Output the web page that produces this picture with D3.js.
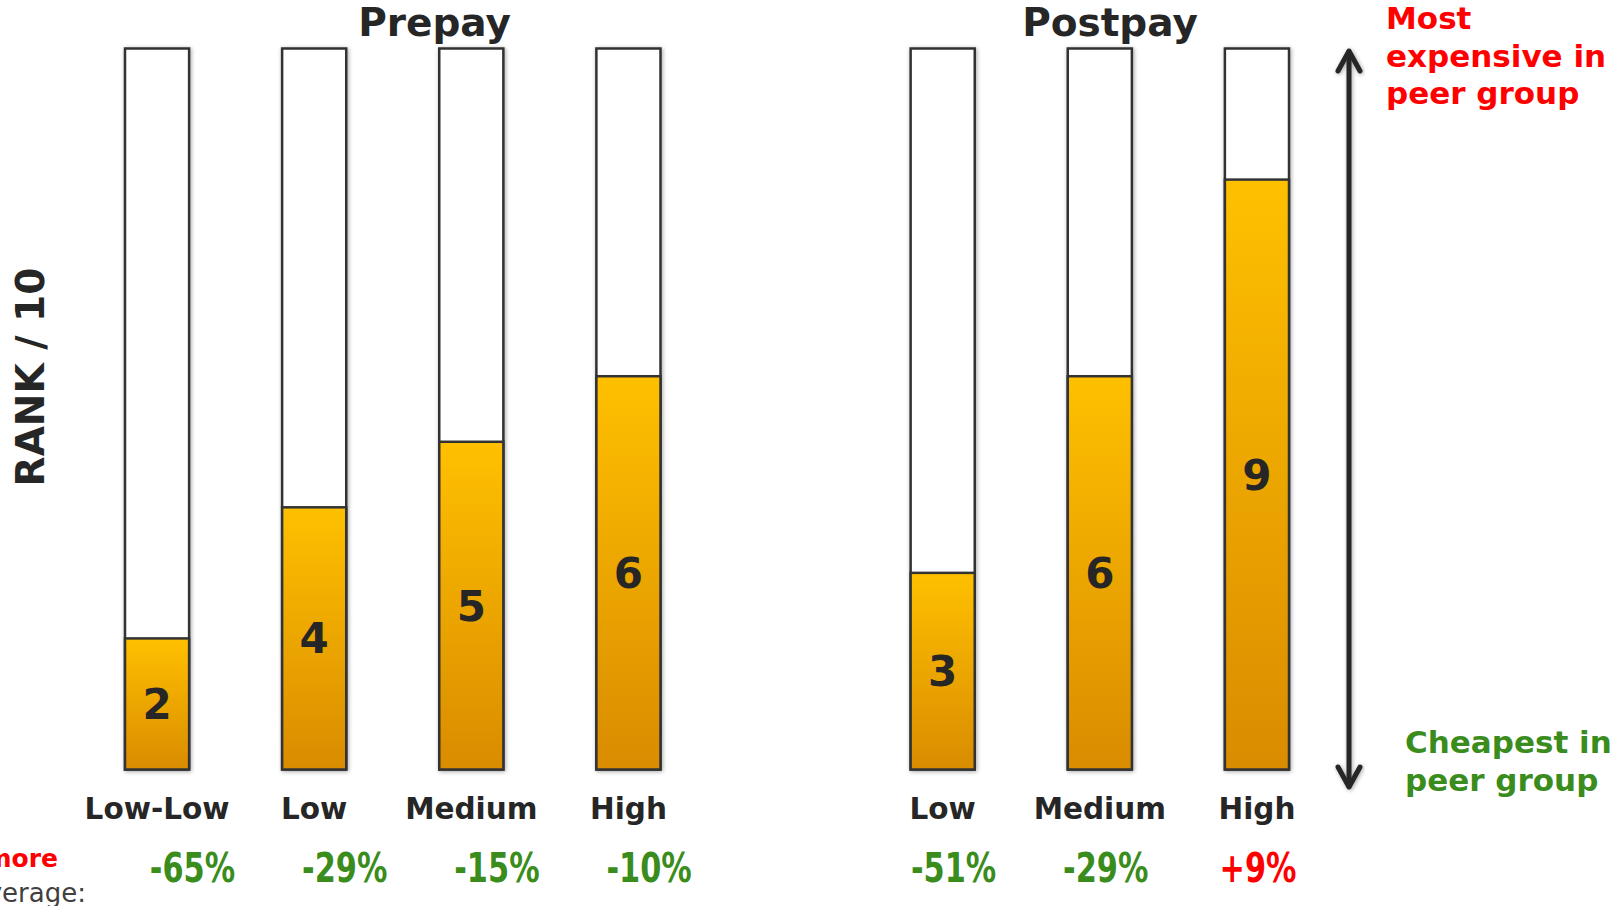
<!DOCTYPE html>
<html>
<head>
	<title> Rank in peer group </title>
	<meta charset="utf-8">
	<script src="https://d3js.org/d3.v7.min.js" charset="utf-8"></script>
	<style>
		body { margin: 0; background: #ffffff; }
		text { font-family: "DejaVu Sans", Verdana, sans-serif; }
	</style>
</head>

<body>

	<svg id="chart" width="1618" height="906"></svg>

	<script>

	//Data.
	var groups = ["Prepay", "Postpay"];
	var prepayCats = ["Low-Low", "Low", "Medium", "High"];
	var prepayRanks = [2, 4, 5, 6];
	var prepayDiffs = [-65, -29, -15, -10];
	var postpayCats = ["Low", "Medium", "High"];
	var postpayRanks = [3, 6, 9];
	var postpayDiffs = [-51, -29, 9];
	var maxRank = 11;

	var dark = "#262626";
	var green = "#3a8c1c";
	var red = "#ff0000";

	//Build one row for every bar, with an empty slot between the two groups.
	var rows = [];
	prepayCats.forEach(function(c, i) {
		rows.push({ group: groups[0], cat: c, rank: prepayRanks[i], diff: prepayDiffs[i], key: groups[0] + "|" + c });
	});
	postpayCats.forEach(function(c, i) {
		rows.push({ group: groups[1], cat: c, rank: postpayRanks[i], diff: postpayDiffs[i], key: groups[1] + "|" + c });
	});
	var slots = rows.slice(0, prepayCats.length).map(function(d) { return d.key; })
		.concat(["gap"])
		.concat(rows.slice(prepayCats.length).map(function(d) { return d.key; }));

	var svg = d3.select("#chart");

//-------------------------------SCALES----------------------------------------------------------------------------

	var x = d3.scaleBand()
		.domain(slots)
		.range([125, 1289])
		.paddingInner(0.592)
		.paddingOuter(0);

	//The % row is spaced a bit tighter than the bars.
	var xPct = d3.scalePoint()
		.domain(slots)
		.range([192.5, 1258]);

	var y = d3.scaleLinear()
		.domain([0, maxRank])
		.range([769.5, 48.5]);

//-------------------------------DEFS----------------------------------------------------------------------------

	var defs = svg.append("defs");
	var grad = defs.append("linearGradient")
		.attr("id", "barFill")
		.attr("x1", 0).attr("y1", 0)
		.attr("x2", 0).attr("y2", 1);
	grad.append("stop").attr("offset", "0%").attr("stop-color", "#ffc000");
	grad.append("stop").attr("offset", "100%").attr("stop-color", "#d98c00");

	var shadow = defs.append("filter")
		.attr("id", "shadow")
		.attr("x", "-20%").attr("y", "-5%")
		.attr("width", "140%").attr("height", "110%");
	shadow.append("feDropShadow")
		.attr("dx", 1).attr("dy", 1)
		.attr("stdDeviation", 2)
		.attr("flood-color", "#000")
		.attr("flood-opacity", 0.35);

//-------------------------------BARS----------------------------------------------------------------------------

	var bars = svg.append("g");

	//Empty frame for the whole peer group.
	bars.selectAll("rect.frame")
		.data(rows)
		.enter().append("rect")
		.attr("class", "frame")
		.attr("x", function(d) { return x(d.key); })
		.attr("y", y(maxRank))
		.attr("width", x.bandwidth())
		.attr("height", y(0) - y(maxRank))
		.style("fill", "#ffffff")
		.style("stroke", "#333333")
		.style("stroke-width", 2.5)
		.attr("filter", "url(#shadow)");

	//Filled part up to the rank.
	bars.selectAll("rect.fill")
		.data(rows)
		.enter().append("rect")
		.attr("class", "fill")
		.attr("x", function(d) { return x(d.key); })
		.attr("y", function(d) { return y(d.rank); })
		.attr("width", x.bandwidth())
		.attr("height", function(d) { return y(0) - y(d.rank); })
		.style("fill", "url(#barFill)")
		.style("stroke", "#333333")
		.style("stroke-width", 2.5);

	//Rank numbers in the middle of the filled part.
	bars.selectAll("text.rank")
		.data(rows)
		.enter().append("text")
		.attr("class", "rank")
		.attr("x", function(d) { return x(d.key) + x.bandwidth() / 2; })
		.attr("y", function(d) { return (y(d.rank) + y(0)) / 2 + 15; })
		.attr("text-anchor", "middle")
		.attr("font-size", "42px")
		.attr("font-weight", "bold")
		.attr("fill", dark)
		.text(function(d) { return d.rank; });

//-------------------------------LABELS----------------------------------------------------------------------------

	//Category under each bar.
	svg.append("g").selectAll("text")
		.data(rows)
		.enter().append("text")
		.attr("x", function(d) { return x(d.key) + x.bandwidth() / 2; })
		.attr("y", 819)
		.attr("text-anchor", "middle")
		.attr("font-size", "29.5px")
		.attr("font-weight", "bold")
		.attr("fill", dark)
		.text(function(d) { return d.cat; });

	//Price difference row, narrow bold text.
	svg.append("g").selectAll("g")
		.data(rows)
		.enter().append("g")
		.attr("transform", function(d) { return "translate(" + xPct(d.key) + ",882) scale(0.76,1)"; })
		.append("text")
		.attr("text-anchor", "middle")
		.attr("font-size", "40px")
		.attr("font-weight", "bold")
		.attr("fill", function(d) { return d.diff > 0 ? red : green; })
		.text(function(d) { return (d.diff > 0 ? "+" : "") + d.diff + "%"; });

	//Group titles.
	var titleX = { "Prepay": 434.5, "Postpay": 1110 };
	svg.append("g").selectAll("text")
		.data(groups)
		.enter().append("text")
		.attr("x", function(d) { return titleX[d]; })
		.attr("y", 36)
		.attr("text-anchor", "middle")
		.attr("font-size", "39px")
		.attr("font-weight", "bold")
		.attr("fill", dark)
		.text(function(d) { return d; });

	//Y label.
	svg.append("text")
		.attr("transform", "translate(44,377) rotate(-90)")
		.attr("text-anchor", "middle")
		.attr("font-size", "39px")
		.attr("font-weight", "bold")
		.attr("fill", dark)
		.text("RANK / 10");

	//Row caption on the left, cut by the page edge as in the original.
	svg.append("text")
		.attr("x", 58)
		.attr("y", 867)
		.attr("text-anchor", "end")
		.attr("font-size", "25px")
		.attr("font-weight", "bold")
		.attr("fill", red)
		.text("% less / more");
	svg.append("text")
		.attr("x", 86)
		.attr("y", 902)
		.attr("text-anchor", "end")
		.attr("font-size", "26px")
		.attr("fill", "#404040")
		.text("than average:");

//-------------------------------ARROW----------------------------------------------------------------------------

	var arrow = svg.append("g")
		.style("stroke", dark)
		.style("stroke-width", 5)
		.style("fill", "none")
		.style("stroke-linecap", "round")
		.style("stroke-linejoin", "round")
		.attr("filter", "url(#shadow)");
	arrow.append("line")
		.attr("x1", 1349).attr("y1", 52)
		.attr("x2", 1349).attr("y2", 786);
	arrow.append("polyline")
		.attr("points", "1338,71 1349,51 1360,71");
	arrow.append("polyline")
		.attr("points", "1338,767 1349,787 1360,767");

	var topNote = svg.append("text")
		.attr("font-size", "31px")
		.attr("font-weight", "bold")
		.attr("fill", red);
	["Most", "expensive in", "peer group"].forEach(function(t, i) {
		topNote.append("tspan").attr("x", 1386).attr("y", 29 + i * 37.5).text(t);
	});

	var bottomNote = svg.append("text")
		.attr("font-size", "31px")
		.attr("font-weight", "bold")
		.attr("fill", green);
	["Cheapest in", "peer group"].forEach(function(t, i) {
		bottomNote.append("tspan").attr("x", 1405).attr("y", 753 + i * 37.5).text(t);
	});

	</script>

</body>
</html>
